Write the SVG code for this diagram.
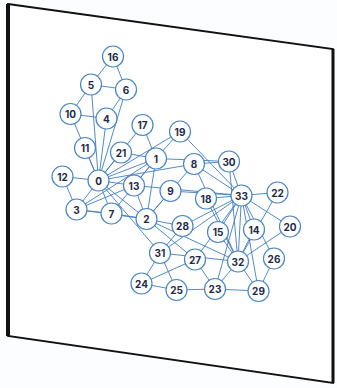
<svg xmlns="http://www.w3.org/2000/svg" width="337" height="388" viewBox="0 0 337 388">
<style>
.e{stroke:#3f7dc2;stroke-width:0.9;fill:none}
.n circle{fill:#fff;stroke:#4a86c6;stroke-width:1.2}
.n text{font-family:Inter,"Liberation Sans",sans-serif;font-weight:700;font-size:10px;fill:#1c2b49;text-anchor:middle;dominant-baseline:central}
</style>
<rect width="337" height="388" fill="#fbfdfe"/>
<g id="panel">
<polygon points="8,4 333,49 333,383 8,336" fill="#fff" stroke="#111" stroke-width="1.8"/>
<line x1="8" y1="4" x2="8" y2="336" stroke="#111" stroke-width="4"/>
<line x1="333" y1="49" x2="333" y2="383" stroke="#111" stroke-width="3"/>
</g>
<g id="edges" class="e">
<path d="M98.5,180.5L156,158.5M98.5,180.5L146.5,219M98.5,180.5L76.5,209.5M98.5,180.5L106.5,118.5M98.5,180.5L91,84.5M98.5,180.5L126,89.5M98.5,180.5L111.5,213.5M98.5,180.5L194,164M98.5,180.5L70.5,114M98.5,180.5L85,148M98.5,180.5L62.5,176.5M98.5,180.5L134,185.5M98.5,180.5L142.5,125M98.5,180.5L180,131.5M98.5,180.5L121,152.5M98.5,180.5L160,253"/>
<path d="M156,158.5L146.5,219M156,158.5L76.5,209.5M156,158.5L111.5,213.5M156,158.5L134,185.5M156,158.5L142.5,125M156,158.5L180,131.5M156,158.5L121,152.5M156,158.5L229,161.5"/>
<path d="M146.5,219L76.5,209.5M146.5,219L111.5,213.5M146.5,219L194,164M146.5,219L170.5,191M146.5,219L134,185.5M146.5,219L195,259.5M146.5,219L182.5,226M146.5,219L238,261.5"/>
<path d="M76.5,209.5L111.5,213.5M76.5,209.5L62.5,176.5M76.5,209.5L134,185.5M106.5,118.5L126,89.5M106.5,118.5L70.5,114M91,84.5L126,89.5M91,84.5L70.5,114M91,84.5L113,56.5M126,89.5L113,56.5"/>
<path d="M194,164L229,161.5M194,164L238,261.5M194,164L241.5,195.5M170.5,191L241.5,195.5M134,185.5L241.5,195.5M254,229.5L238,261.5M254,229.5L241.5,195.5M218,232L238,261.5M218,232L241.5,195.5M206,198.5L238,261.5M206,198.5L241.5,195.5M180,131.5L241.5,195.5"/>
<path d="M290,226.5L238,261.5M290,226.5L241.5,195.5M277.5,192.5L238,261.5M277.5,192.5L241.5,195.5M215,289L176.5,290M215,289L195,259.5M215,289L258.5,291M215,289L238,261.5M215,289L241.5,195.5"/>
<path d="M141.5,283.5L176.5,290M141.5,283.5L195,259.5M141.5,283.5L160,253M176.5,290L160,253M274,258.5L258.5,291M274,258.5L241.5,195.5M195,259.5L241.5,195.5M182.5,226L160,253M182.5,226L241.5,195.5"/>
<path d="M258.5,291L238,261.5M258.5,291L241.5,195.5M229,161.5L238,261.5M229,161.5L241.5,195.5M160,253L238,261.5M160,253L241.5,195.5M238,261.5L241.5,195.5"/>
</g>
<g id="n0" class="n"><circle cx="98.5" cy="180.5" r="10.5"/><text x="98.5" y="180.5">0</text></g>
<g id="n1" class="n"><circle cx="156" cy="158.5" r="10.5"/><text x="156" y="158.5">1</text></g>
<g id="n2" class="n"><circle cx="146.5" cy="219" r="10.5"/><text x="146.5" y="219">2</text></g>
<g id="n3" class="n"><circle cx="76.5" cy="209.5" r="10.5"/><text x="76.5" y="209.5">3</text></g>
<g id="n4" class="n"><circle cx="106.5" cy="118.5" r="10.5"/><text x="106.5" y="118.5">4</text></g>
<g id="n5" class="n"><circle cx="91" cy="84.5" r="10.5"/><text x="91" y="84.5">5</text></g>
<g id="n6" class="n"><circle cx="126" cy="89.5" r="10.5"/><text x="126" y="89.5">6</text></g>
<g id="n7" class="n"><circle cx="111.5" cy="213.5" r="10.5"/><text x="111.5" y="213.5">7</text></g>
<g id="n8" class="n"><circle cx="194" cy="164" r="10.5"/><text x="194" y="164">8</text></g>
<g id="n9" class="n"><circle cx="170.5" cy="191" r="10.5"/><text x="170.5" y="191">9</text></g>
<g id="n10" class="n"><circle cx="70.5" cy="114" r="10.5"/><text x="70.5" y="114">10</text></g>
<g id="n11" class="n"><circle cx="85" cy="148" r="10.5"/><text x="85" y="148">11</text></g>
<g id="n12" class="n"><circle cx="62.5" cy="176.5" r="10.5"/><text x="62.5" y="176.5">12</text></g>
<g id="n13" class="n"><circle cx="134" cy="185.5" r="10.5"/><text x="134" y="185.5">13</text></g>
<g id="n14" class="n"><circle cx="254" cy="229.5" r="10.5"/><text x="254" y="229.5">14</text></g>
<g id="n15" class="n"><circle cx="218" cy="232" r="10.5"/><text x="218" y="232">15</text></g>
<g id="n16" class="n"><circle cx="113" cy="56.5" r="10.5"/><text x="113" y="56.5">16</text></g>
<g id="n17" class="n"><circle cx="142.5" cy="125" r="10.5"/><text x="142.5" y="125">17</text></g>
<g id="n18" class="n"><circle cx="206" cy="198.5" r="10.5"/><text x="206" y="198.5">18</text></g>
<g id="n19" class="n"><circle cx="180" cy="131.5" r="10.5"/><text x="180" y="131.5">19</text></g>
<g id="n20" class="n"><circle cx="290" cy="226.5" r="10.5"/><text x="290" y="226.5">20</text></g>
<g id="n21" class="n"><circle cx="121" cy="152.5" r="10.5"/><text x="121" y="152.5">21</text></g>
<g id="n22" class="n"><circle cx="277.5" cy="192.5" r="10.5"/><text x="277.5" y="192.5">22</text></g>
<g id="n23" class="n"><circle cx="215" cy="289" r="10.5"/><text x="215" y="289">23</text></g>
<g id="n24" class="n"><circle cx="141.5" cy="283.5" r="10.5"/><text x="141.5" y="283.5">24</text></g>
<g id="n25" class="n"><circle cx="176.5" cy="290" r="10.5"/><text x="176.5" y="290">25</text></g>
<g id="n26" class="n"><circle cx="274" cy="258.5" r="10.5"/><text x="274" y="258.5">26</text></g>
<g id="n27" class="n"><circle cx="195" cy="259.5" r="10.5"/><text x="195" y="259.5">27</text></g>
<g id="n28" class="n"><circle cx="182.5" cy="226" r="10.5"/><text x="182.5" y="226">28</text></g>
<g id="n29" class="n"><circle cx="258.5" cy="291" r="10.5"/><text x="258.5" y="291">29</text></g>
<g id="n30" class="n"><circle cx="229" cy="161.5" r="10.5"/><text x="229" y="161.5">30</text></g>
<g id="n31" class="n"><circle cx="160" cy="253" r="10.5"/><text x="160" y="253">31</text></g>
<g id="n32" class="n"><circle cx="238" cy="261.5" r="10.5"/><text x="238" y="261.5">32</text></g>
<g id="n33" class="n"><circle cx="241.5" cy="195.5" r="10.5"/><text x="241.5" y="195.5">33</text></g>
</svg>
